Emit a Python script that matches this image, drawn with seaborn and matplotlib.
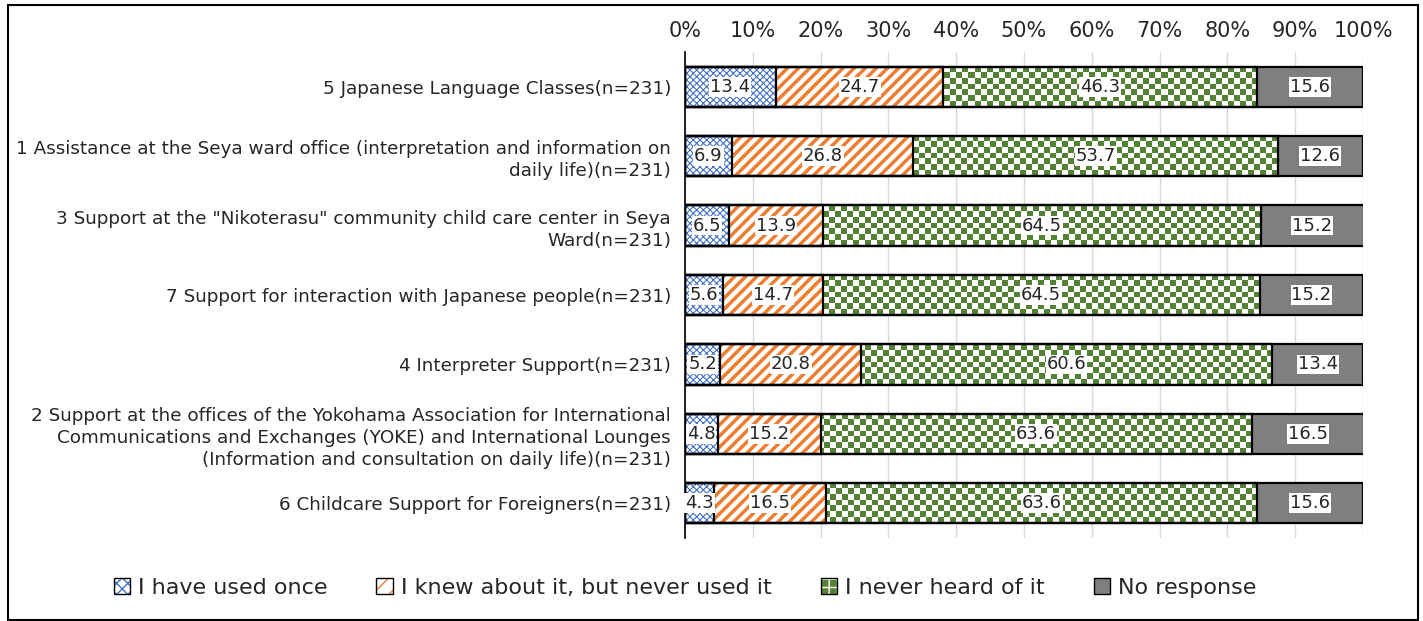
import matplotlib
matplotlib.use("Agg")
import matplotlib.pyplot as plt
import seaborn as sns
import numpy as np
import pandas as pd
from matplotlib.patches import Rectangle, Patch
from matplotlib.legend_handler import HandlerTuple

categories = [
    "5 Japanese Language Classes(n=231)",
    "1 Assistance at the Seya ward office (interpretation and information on\ndaily life)(n=231)",
    "3 Support at the \"Nikoterasu\" community child care center in Seya\nWard(n=231)",
    "7 Support for interaction with Japanese people(n=231)",
    "4 Interpreter Support(n=231)",
    "2 Support at the offices of the Yokohama Association for International\nCommunications and Exchanges (YOKE) and International Lounges\n(Information and consultation on daily life)(n=231)",
    "6 Childcare Support for Foreigners(n=231)",
]
series = ["I have used once", "I knew about it, but never used it", "I never heard of it", "No response"]
used_once = [13.4, 6.9, 6.5, 5.6, 5.2, 4.8, 4.3]
knew = [24.7, 26.8, 13.9, 14.7, 20.8, 15.2, 16.5]
never_heard = [46.3, 53.7, 64.5, 64.5, 60.6, 63.6, 63.6]
no_response = [15.6, 12.6, 15.2, 15.2, 13.4, 16.5, 15.6]
ticks = [0, 10, 20, 30, 40, 50, 60, 70, 80, 90, 100]

values = [used_once, knew, never_heard, no_response]
face = ["#FFFFFF", "#FFFFFF", "#FFFFFF", "#7F7F7F"]
hatchc = ["#4472C4", "#ED7D31", "#548235", "#6F6F6F"]
hatches = ["xxxxx", "///", "", ""]
hatch_lw = [0.8, 2.5, 1.0, 1.0]

sns.set_style("white")
plt.rcParams['font.family'] = ['DejaVu Sans']

W, H = 1423, 621
fig = plt.figure(figsize=(W / 100, H / 100), dpi=100)
ax_left, ax_right, ax_top, ax_bot = 685, 1363, 52, 538
ax = fig.add_axes([ax_left / W, 1 - ax_bot / H, (ax_right - ax_left) / W, (ax_bot - ax_top) / H])

ncat = len(categories)
ax.set_xlim(0, 100)
ax.set_ylim(ncat - 0.5, -0.5)

cum = np.cumsum(np.array(values), axis=0)
px_per_x = (ax_right - ax_left) / 100.0
px_per_y = (ax_bot - ax_top) / ncat
sq = 6.0  # checker square size in px
checker_cmap = matplotlib.colors.ListedColormap(["#548235", "#FFFFFF"])

for i in [3, 2, 1, 0]:
    z = 2.0 + (3 - i) * 0.1
    df = pd.DataFrame({"cat": categories, "val": cum[i]})
    n_before = len(ax.patches)
    with plt.rc_context({'hatch.linewidth': hatch_lw[i]}):
        sns.barplot(data=df, x="val", y="cat", orient="h", color=face[i], ax=ax,
                    width=0.58, saturation=1)
    for p in ax.patches[n_before:]:
        p.set_facecolor(face[i])
        p.set_edgecolor(hatchc[i])
        p.set_hatch(hatches[i])
        p.set_linewidth(0)
        p.set_zorder(z)
        bb = p.get_bbox()
        if i == 2:
            nx = max(1, int(round(bb.width * px_per_x / sq)))
            ny = max(1, int(round(abs(bb.height) * px_per_y / sq)))
            chk = (np.add.outer(np.arange(ny), np.arange(nx)) % 2).astype(float)
            im = ax.imshow(chk, cmap=checker_cmap, extent=(bb.x0, bb.x1, bb.y1, bb.y0),
                           aspect="auto", interpolation="nearest", zorder=z + 0.05)
            im.set_clip_path(p)
        ax.add_patch(Rectangle((bb.x0, bb.y0), bb.width, bb.height, fill=False,
                               edgecolor="black", linewidth=1.6, zorder=3))

# labels
for i in range(4):
    for j in range(ncat):
        start = cum[i][j] - values[i][j]
        ax.text(start + values[i][j] / 2, j, f"{values[i][j]:.1f}", ha="center", va="center",
                fontsize=13, color="#262626", zorder=5,
                bbox=dict(boxstyle="square,pad=0.05", facecolor="white", edgecolor="none"))

ax.set_xlim(0, 100)
ax.set_ylim(ncat - 0.5, -0.5)
ax.set_xticks(ticks)
ax.set_xticklabels([f"{t}%" for t in ticks], fontsize=15, color="#262626")
ax.xaxis.tick_top()
ax.tick_params(axis="x", length=0, pad=8)
ax.tick_params(axis="y", length=0, pad=10)
ax.set_yticks(range(ncat))
ax.set_yticklabels(categories, fontsize=13.2, color="#262626", linespacing=1.3)
ax.set_xlabel("")
ax.set_ylabel("")
ax.grid(axis="x", color="#D9D9D9", linewidth=1, zorder=0)
ax.set_axisbelow(True)
for s in ["top", "right", "bottom"]:
    ax.spines[s].set_visible(False)
ax.spines["left"].set_color("black")
ax.spines["left"].set_linewidth(1.2)

handles = []
for i in range(4):
    with plt.rc_context({'hatch.linewidth': 1.0}):
        if i == 2:
            fillp = Patch(facecolor="#548235", edgecolor="#FFFFFF", hatch="++", linewidth=0)
        elif i == 0:
            fillp = Patch(facecolor="#FFFFFF", edgecolor=hatchc[i], hatch="xxx", linewidth=0)
        elif i == 1:
            fillp = Patch(facecolor="#FFFFFF", edgecolor=hatchc[i], hatch="//", linewidth=0)
        else:
            fillp = Patch(facecolor=face[i], linewidth=0)
    outline = Patch(facecolor="none", edgecolor="black", linewidth=1)
    handles.append((fillp, outline))
leg = fig.legend(handles, series, loc="center", bbox_to_anchor=(685 / W, 1 - 588 / H), ncol=4,
                 frameon=False, fontsize=16, handlelength=0.75, handleheight=0.75,
                 columnspacing=2.2, handletextpad=0.35,
                 handler_map={tuple: HandlerTuple(ndivide=1)})

fig.add_artist(Rectangle((8 / W, 1 - 620 / H), 1410 / W, 615 / H, transform=fig.transFigure,
                         fill=False, edgecolor="black", linewidth=1.5))

fig.savefig("out.png", dpi=100)
